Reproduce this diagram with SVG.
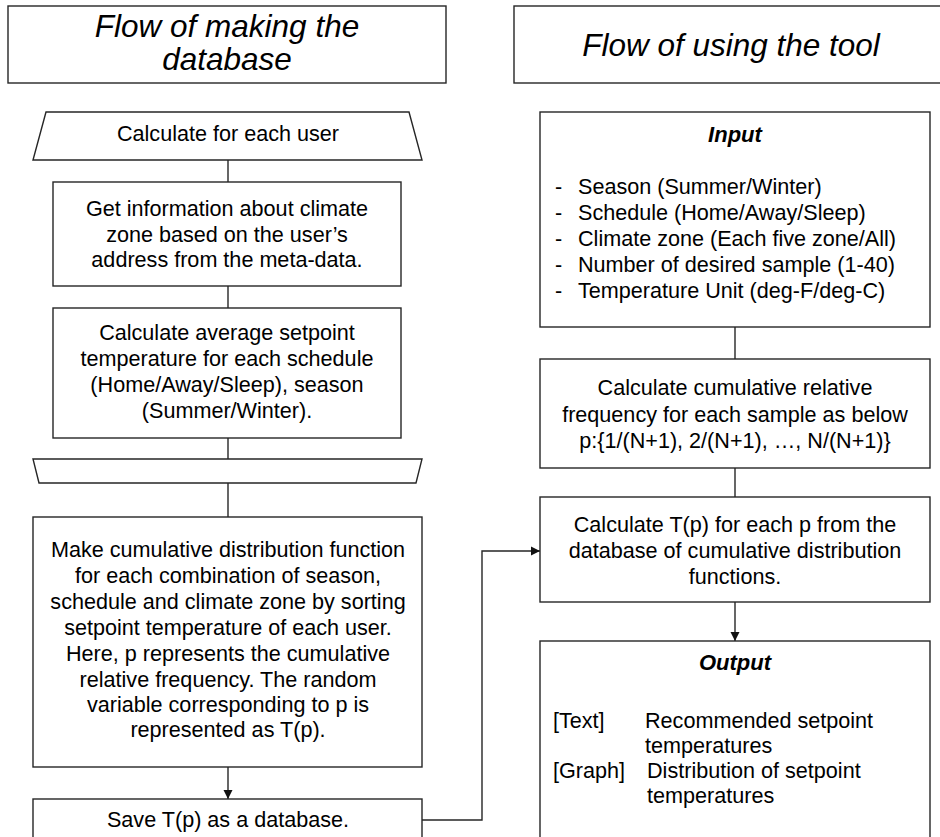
<svg xmlns="http://www.w3.org/2000/svg" width="940" height="837" viewBox="0 0 940 837">
<style>
.box{fill:#fff;stroke:#262626;stroke-width:1.4}
.ln{fill:none;stroke:#262626;stroke-width:1.4}
text{font-family:"Liberation Sans",Arial,sans-serif;fill:#000}
.t{font-size:21.6px;text-anchor:middle}
.l{font-size:21.6px}
.title{font-size:31.5px;font-style:italic;text-anchor:middle}
.hd{font-size:22px;font-style:italic;font-weight:bold;text-anchor:middle}
</style>
<defs>
<marker id="arr" markerWidth="10" markerHeight="10" refX="9" refY="5" orient="auto" markerUnits="userSpaceOnUse">
<path d="M0,0.5 L9,5 L0,9.5 Z" fill="#111"/>
</marker>
</defs>
<rect width="940" height="837" fill="#fff"/>

<g id="connectors">
<line class="ln" x1="228" y1="160" x2="228" y2="182"/>
<line class="ln" x1="228" y1="286" x2="228" y2="308"/>
<line class="ln" x1="228" y1="438" x2="228" y2="459"/>
<line class="ln" x1="228" y1="483" x2="228" y2="517"/>
<line class="ln" x1="228" y1="767" x2="228" y2="799" marker-end="url(#arr)"/>
<polyline class="ln" points="422,820 482,820 482,551 540,551" marker-end="url(#arr)"/>
<line class="ln" x1="735" y1="327" x2="735" y2="359"/>
<line class="ln" x1="735" y1="468" x2="735" y2="497"/>
<line class="ln" x1="735" y1="602" x2="735" y2="641" marker-end="url(#arr)"/>
</g>

<g id="title-left">
<rect class="box" x="8" y="6" width="438" height="77"/>
<text class="title" x="227" y="37">Flow of making the</text>
<text class="title" x="227" y="70">database</text>
</g>

<g id="title-right">
<rect class="box" x="514" y="6" width="440" height="77"/>
<text class="title" x="731" y="56">Flow of using the tool</text>
</g>

<g id="loop-start">
<polygon class="box" points="46,112 409,112 422,160 33,160"/>
<text class="t" x="228" y="141">Calculate for each user</text>
</g>

<g id="get-climate">
<rect class="box" x="53" y="182" width="348" height="104"/>
<text class="t" x="227" y="216">Get information about climate</text>
<text class="t" x="227" y="242">zone based on the user’s</text>
<text class="t" x="227" y="267">address from the meta-data.</text>
</g>

<g id="calc-average">
<rect class="box" x="53" y="308" width="348" height="130"/>
<text class="t" x="227" y="340">Calculate average setpoint</text>
<text class="t" x="227" y="366">temperature for each schedule</text>
<text class="t" x="227" y="392">(Home/Away/Sleep), season</text>
<text class="t" x="227" y="418">(Summer/Winter).</text>
</g>

<g id="loop-end">
<polygon class="box" points="33,459 422,459 416,483 39,483"/>
</g>

<g id="make-cdf">
<rect class="box" x="33" y="517" width="389" height="250"/>
<text class="t" x="228" y="557">Make cumulative distribution function</text>
<text class="t" x="228" y="583">for each combination of season,</text>
<text class="t" x="228" y="609">schedule and climate zone by sorting</text>
<text class="t" x="228" y="635">setpoint temperature of each user.</text>
<text class="t" x="228" y="661">Here, p represents the cumulative</text>
<text class="t" x="228" y="687">relative frequency. The random</text>
<text class="t" x="228" y="712">variable corresponding to p is</text>
<text class="t" x="228" y="737">represented as T(p).</text>
</g>

<g id="save-db">
<rect class="box" x="33" y="799" width="389" height="50"/>
<text class="t" x="228" y="827">Save T(p) as a database.</text>
</g>

<g id="input">
<rect class="box" x="540" y="112" width="390" height="215"/>
<text class="hd" x="735" y="142">Input</text>
<text class="l" x="555" y="194">-</text><text class="l" x="578" y="194">Season (Summer/Winter)</text>
<text class="l" x="555" y="220">-</text><text class="l" x="578" y="220">Schedule (Home/Away/Sleep)</text>
<text class="l" x="555" y="246">-</text><text class="l" x="578" y="246">Climate zone (Each five zone/All)</text>
<text class="l" x="555" y="272">-</text><text class="l" x="578" y="272">Number of desired sample (1-40)</text>
<text class="l" x="555" y="298">-</text><text class="l" x="578" y="298">Temperature Unit (deg-F/deg-C)</text>
</g>

<g id="calc-frequency">
<rect class="box" x="540" y="359" width="390" height="109"/>
<text class="t" x="735" y="395">Calculate cumulative relative</text>
<text class="t" x="735" y="422">frequency for each sample as below</text>
<text class="t" x="735" y="448">p:{1/(N+1), 2/(N+1), …, N/(N+1)}</text>
</g>

<g id="calc-tp">
<rect class="box" x="540" y="497" width="390" height="105"/>
<text class="t" x="735" y="532">Calculate T(p) for each p from the</text>
<text class="t" x="735" y="558">database of cumulative distribution</text>
<text class="t" x="735" y="584">functions.</text>
</g>

<g id="output">
<rect class="box" x="540" y="641" width="390" height="210"/>
<text class="hd" x="735" y="670">Output</text>
<text class="l" x="553" y="728">[Text]</text><text class="l" x="645" y="728">Recommended setpoint</text>
<text class="l" x="645" y="753">temperatures</text>
<text class="l" x="553" y="778">[Graph]</text><text class="l" x="647" y="778">Distribution of setpoint</text>
<text class="l" x="647" y="803">temperatures</text>
</g>
</svg>
